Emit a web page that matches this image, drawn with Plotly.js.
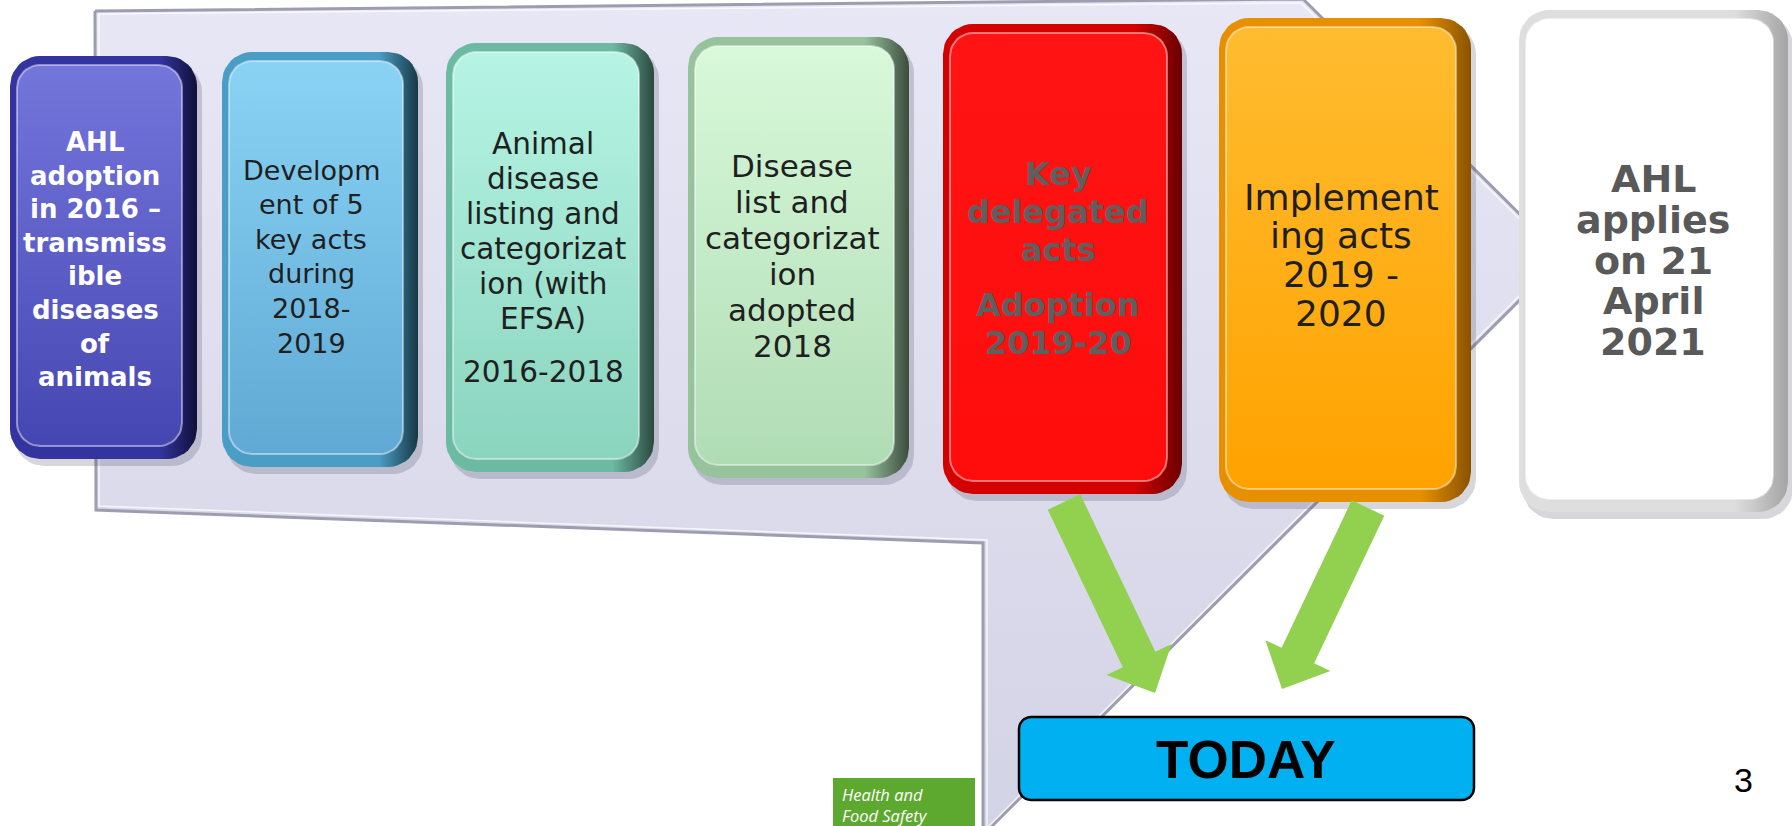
<!DOCTYPE html>
<html><head><meta charset="utf-8">
<script src="https://cdn.plot.ly/plotly-3.0.1.min.js"></script>
<style>html,body{margin:0;padding:0;background:#fff;overflow:hidden}#chart{width:1792px;height:826px}</style>
</head><body><div id="chart"></div>
<script>
// ---------- data ----------
const stepTexts = [
  [["AHL","adoption","in 2016 –","transmiss","ible","diseases","of","animals"]],
  [["Developm","ent of 5","key acts","during","2018-","2019"]],
  [["Animal","disease","listing and","categorizat","ion (with","EFSA)"],["2016-2018"]],
  [["Disease","list and","categorizat","ion","adopted","2018"]],
  [["Key","delegated","acts"],["Adoption","2019-20"]],
  [["Implement","ing acts","2019 -","2020"]],
  [["AHL","applies","on 21","April","2021"]]
];
const todayLabel = "TODAY";
const stepsPointingToToday = [4, 5];
const pageNumber = "3";
const footerLines = ["Health and", "Food Safety"];

// ---------- geometry / style (pixel space) ----------
const W = 1792, H = 826;
const boxGeom = [
  {x0:10,  y0:56, x1:197,  y1:459, tx:95,   firstY:142, gap:33.6, pgap:0,  size:26,   bold:true,  color:"#ffffff"},
  {x0:222, y0:52, x1:418,  y1:467, tx:311,  firstY:170, gap:34.6, pgap:0,  size:27,   bold:false, color:"#1f1f1f"},
  {x0:446, y0:43, x1:654,  y1:472, tx:543,  firstY:144, gap:35,   pgap:53, size:29.5, bold:false, color:"#1f1f1f"},
  {x0:688, y0:37, x1:909,  y1:478, tx:792,  firstY:166, gap:36,   pgap:0,  size:31,   bold:false, color:"#1f1f1f"},
  {x0:943, y0:24, x1:1182, y1:494, tx:1058, firstY:174, gap:38,   pgap:55, size:32,   bold:true,  color:"#5f5f5f"},
  {x0:1219,y0:18, x1:1471, y1:502, tx:1341, firstY:197, gap:38.8, pgap:0,  size:36,   bold:false, color:"#1f1f1f"},
  {x0:1519,y0:10, x1:1788, y1:512, tx:1653, firstY:179, gap:40.8, pgap:0,  size:38,   bold:true,  color:"#595959"}
];
const boxStyle = [
  {rim:"#3434a0", rimDark:"#10103a", top:"#7576dc", bot:"#4646b2"},
  {rim:"#4a9ec6", rimDark:"#183844", top:"#8ad3f5", bot:"#5fa9d4"},
  {rim:"#6cbaa2", rimDark:"#2c4840", top:"#b6f4e4", bot:"#8ad4be"},
  {rim:"#96c29c", rimDark:"#3c4c3e", top:"#d8f9da", bot:"#b0dcb4"},
  {rim:"#d40000", rimDark:"#6a0000", top:"#ff1414", bot:"#ff0c0c"},
  {rim:"#e69000", rimDark:"#8a5200", top:"#ffbc30", bot:"#ffa200"},
  {rim:"#dedede", rimDark:"#a4a4a4", top:"#ffffff", bot:"#ffffff"}
];
const arrowGeom = {4:{tail:[1064,502], tip:[1155,693]}, 5:{tail:[1368,508], tip:[1282,689]}};

function Y(p){ return H - p; }
function rr(x0,y0,x1,y1,r,n){
  n = n || 10; const pts = [];
  const c = [[x1-r,y0+r,-90,0],[x1-r,y1-r,0,90],[x0+r,y1-r,90,180],[x0+r,y0+r,180,270]];
  for (const [cx,cy,a0,a1] of c){
    for (let i=0;i<=n;i++){ const a=(a0+(a1-a0)*i/n)*Math.PI/180; pts.push([cx+r*Math.cos(a), cy+r*Math.sin(a)]); }
  }
  pts.push(pts[0]);
  return {x:pts.map(p=>p[0]), y:pts.map(p=>Y(p[1]))};
}
function poly(pts){ const q = pts.concat([pts[0]]); return {x:q.map(p=>p[0]), y:q.map(p=>Y(p[1]))}; }
function fillTrace(p, fillcolor, line, grad){
  const t = {type:"scatter", mode:"lines", x:p.x, y:p.y, fill:"toself", fillcolor:fillcolor,
    line: line || {width:0, color:"rgba(0,0,0,0)"}, hoverinfo:"skip", showlegend:false};
  if (grad) t.fillgradient = grad;
  return t;
}
function lineTrace(p, color, width){
  return {type:"scatter", mode:"lines", x:p.x, y:p.y, line:{color:color, width:width}, hoverinfo:"skip", showlegend:false};
}
function arrowPoly(T,P,sw,hw,hl){
  const dx=P[0]-T[0], dy=P[1]-T[1], L=Math.hypot(dx,dy), ux=dx/L, uy=dy/L, nx=-uy, ny=ux;
  const B=[P[0]-ux*hl, P[1]-uy*hl];
  return poly([[T[0]+nx*sw,T[1]+ny*sw],[B[0]+nx*sw,B[1]+ny*sw],[B[0]+nx*hw,B[1]+ny*hw],P,
               [B[0]-nx*hw,B[1]-ny*hw],[B[0]-nx*sw,B[1]-ny*sw],[T[0]-nx*sw,T[1]-ny*sw]]);
}

const traces = [];
// big lavender callout
const callout = poly([[95,11],[1303,-1],[1563,257],[990,828],[983,828],[983,543],[96,510]]);
traces.push(fillTrace(callout, "#dcdcee", {color:"#9d9db0", width:3},
  {type:"vertical", colorscale:[[0,"#d3d3e6"],[1,"#e7e7f5"]]}));
const calloutHi = poly([[99,14],[1301,3],[1558,257],[987,828],[987,828],[987,540],[99,506]]);
traces.push(lineTrace(calloutHi, "rgba(255,255,255,0.75)", 1.5));

// steps
boxGeom.forEach((g,i)=>{
  const s = boxStyle[i];
  traces.push(fillTrace(rr(g.x0+4,g.y0+6,g.x1+5,g.y1+7,30), "rgba(70,70,90,0.22)"));
  traces.push(fillTrace(rr(g.x0,g.y0,g.x1,g.y1,30), s.rim, null,
    {type:"horizontal", colorscale:[[0,s.rim],[0.8,s.rim],[1,s.rimDark]]}));
  const face = rr(g.x0+7,g.y0+9,g.x1-15,g.y1-13,23);
  traces.push(fillTrace(face, s.top, null, {type:"vertical", colorscale:[[0,s.bot],[1,s.top]]}));
  traces.push(lineTrace(face, "rgba(255,255,255,0.45)", 2));
});

// arrows to TODAY
stepsPointingToToday.forEach(k=>{
  const a = arrowGeom[k];
  traces.push(fillTrace(arrowPoly(a.tail,a.tip,18,36,37), "#92d050"));
});

// TODAY box
traces.push(fillTrace(rr(1019,717,1474,800,12), "#00b0f0", {color:"#000000", width:2.5}));
// footer box
traces.push(fillTrace(poly([[833,778],[975,778],[975,830],[833,830]]), "#5da92f"));

// ---------- annotations ----------
const ann = [];
stepTexts.forEach((paras,i)=>{
  const g = boxGeom[i];
  let y = g.firstY;
  paras.forEach((lines,pi)=>{
    if (pi>0) y += g.pgap - g.gap;
    lines.forEach(line=>{
      ann.push({x:g.tx, y:Y(y), xref:"x", yref:"y", showarrow:false, xanchor:"center", yanchor:"middle",
        text: g.bold ? "<b>"+line+"</b>" : line,
        font:{family:"DejaVu Sans, Verdana, sans-serif", size:g.size, color:g.color}});
      y += g.gap;
    });
  });
});
ann.push({x:1246, y:Y(759), xref:"x", yref:"y", showarrow:false, xanchor:"center", yanchor:"middle",
  text:"<b>"+todayLabel+"</b>", font:{family:"Liberation Sans, Arial, sans-serif", size:53, color:"#000"}});
ann.push({x:1743, y:Y(780), xref:"x", yref:"y", showarrow:false, xanchor:"center", yanchor:"middle",
  text:pageNumber, font:{family:"Liberation Sans, Arial, sans-serif", size:34, color:"#000"}});
footerLines.forEach((t,i)=>{
  ann.push({x:840, y:Y(794 + i*21), xref:"x", yref:"y", showarrow:false, xanchor:"left", yanchor:"middle",
    text:"<i>"+t+"</i>", font:{family:"Open Sans, sans-serif", size:16.5, color:"#ffffff"}});
});

const layout = {
  width:W, height:H, margin:{l:0,r:0,t:0,b:0},
  paper_bgcolor:"#ffffff", plot_bgcolor:"#ffffff",
  xaxis:{range:[0,W], visible:false, fixedrange:true},
  yaxis:{range:[0,H], visible:false, fixedrange:true},
  showlegend:false, annotations:ann
};
Plotly.newPlot("chart", traces, layout, {staticPlot:true, displayModeBar:false});
</script>
</body></html>
